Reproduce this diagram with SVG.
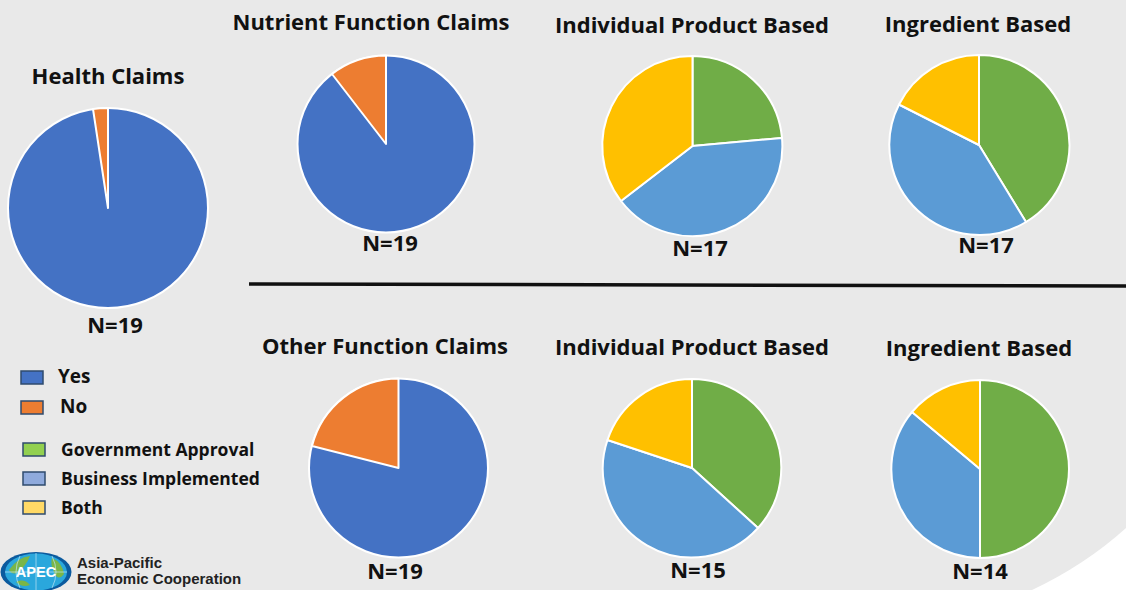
<svg xmlns="http://www.w3.org/2000/svg" width="1126" height="590" viewBox="0 0 1126 590">
<style>
text{font-family:"Open Sans","Noto Sans","Liberation Sans",sans-serif;font-weight:700;fill:#111}
.t{font-size:22px;text-anchor:middle}
.n{font-size:22px;text-anchor:middle}
.l{font-size:19px}
.m{font-size:17.500px}
.s{stroke:#fff;stroke-width:2;stroke-linejoin:round}
.blue{fill:#4472c4}.or{fill:#ed7d31}.gr{fill:#70ad47}.lb{fill:#5b9bd5}.ye{fill:#ffc000}
.k{stroke:#2f4b6e;stroke-width:1.5}
.logo{font-family:"Liberation Sans",Arial,sans-serif;font-size:15px;fill:#222}
</style>
<rect width="1126" height="590" fill="#e9e9e9"/>
<path d="M1126 528Q1085 565 1032 590H1126Z" fill="#fff"/>
<g id="health">
<text class="t" x="108" y="84">Health Claims</text>
<circle class="blue s" cx="108" cy="208" r="100"/>
<path class="or s" d="M108 208L93 109A100 100 0 0 1 108 108Z"/>
<text class="n" x="115" y="333">N=19</text>
</g>
<g id="nutrient">
<text class="t" x="371" y="30">Nutrient Function Claims</text>
<circle class="blue s" cx="386" cy="144" r="88.500"/>
<path class="or s" d="M386 144L332 74A88.500 88.500 0 0 1 386 55.500Z"/>
<text class="n" x="390" y="251">N=19</text>
</g>
<g id="individual-top">
<text class="t" x="692" y="33">Individual Product Based</text>
<path class="gr s" d="M692.500 146L692.500 56A90 90 0 0 1 782 138Z"/>
<path class="lb s" d="M692.500 146L782 138A90 90 0 0 1 621 201Z"/>
<path class="ye s" d="M692.500 146L621 201A90 90 0 0 1 692.500 56Z"/>
<text class="n" x="700" y="256">N=17</text>
</g>
<g id="ingredient-top">
<text class="t" x="978" y="32">Ingredient Based</text>
<path class="gr s" d="M979 145L979 55A90 90 0 0 1 1026 222Z"/>
<path class="lb s" d="M979 145L1026 222A90 90 0 0 1 899 104.500Z"/>
<path class="ye s" d="M979 145L899 104.500A90 90 0 0 1 979 55Z"/>
<text class="n" x="986" y="253">N=17</text>
</g>
<g id="connectors"><line x1="249" y1="284" x2="1126" y2="286" stroke="#111" stroke-width="3.500"/></g>
<g id="other">
<text class="t" x="385" y="354">Other Function Claims</text>
<circle class="blue s" cx="398.500" cy="468" r="89.500"/>
<path class="or s" d="M398.500 468L312 446A89.500 89.500 0 0 1 398.500 378.500Z"/>
<text class="n" x="395" y="579">N=19</text>
</g>
<g id="individual-bottom">
<text class="t" x="692" y="355">Individual Product Based</text>
<path class="gr s" d="M692 468L692 379A89 89 0 0 1 758 528Z"/>
<path class="lb s" d="M692 468L758 528A89 89 0 0 1 607.500 440Z"/>
<path class="ye s" d="M692 468L607.500 440A89 89 0 0 1 692 379Z"/>
<text class="n" x="698" y="578">N=15</text>
</g>
<g id="ingredient-bottom">
<text class="t" x="979" y="356">Ingredient Based</text>
<path class="gr s" d="M980 469L980 380A89 89 0 0 1 980 558Z"/>
<path class="lb s" d="M980 469L980 558A89 89 0 0 1 912 412Z"/>
<path class="ye s" d="M980 469L912 412A89 89 0 0 1 980 380Z"/>
<text class="n" x="980" y="579">N=14</text>
</g>
<g id="legend">
<rect class="k" x="21" y="371" width="22" height="13" fill="#4472c4"/><text class="l" x="58" y="383">Yes</text>
<rect class="k" x="21" y="401" width="22" height="13" fill="#ed7d31"/><text class="l" x="60" y="413">No</text>
<rect class="k" x="23" y="443" width="22" height="13" fill="#92d050"/><text class="m" x="61" y="456">Government Approval</text>
<rect class="k" x="23" y="472" width="22" height="13" fill="#8faadc"/><text class="m" x="61" y="485">Business Implemented</text>
<rect class="k" x="23" y="501" width="22" height="13" fill="#ffd966"/><text class="m" x="61" y="514">Both</text>
</g>
<g id="apec-logo">
<ellipse cx="36" cy="572" rx="35.500" ry="20" fill="#0b5a9e"/>
<ellipse cx="36" cy="572" rx="31" ry="18.500" fill="#2aa7dc"/>
<path d="M9 570Q18 557 30 556Q26 566 18 572Q13 576 9 570ZM52 558Q62 562 64 574Q58 582 54 572Q50 564 52 558ZM16 582Q24 578 30 585Q22 588 16 582Z" fill="#7ab648"/>
<path d="M36 553V591M5 572H67M20 556Q12 572 20 588M52 556Q60 572 52 588" fill="none" stroke="#bfe4f5" stroke-width=".7"/>
<text x="36" y="577" text-anchor="middle" style="font-family:'Liberation Sans',Arial,sans-serif;font-size:14.500px;fill:#fff">APEC</text>
<text class="logo" x="77" y="568">Asia-Pacific</text>
<text class="logo" x="77" y="584">Economic Cooperation</text>
</g>
</svg>
